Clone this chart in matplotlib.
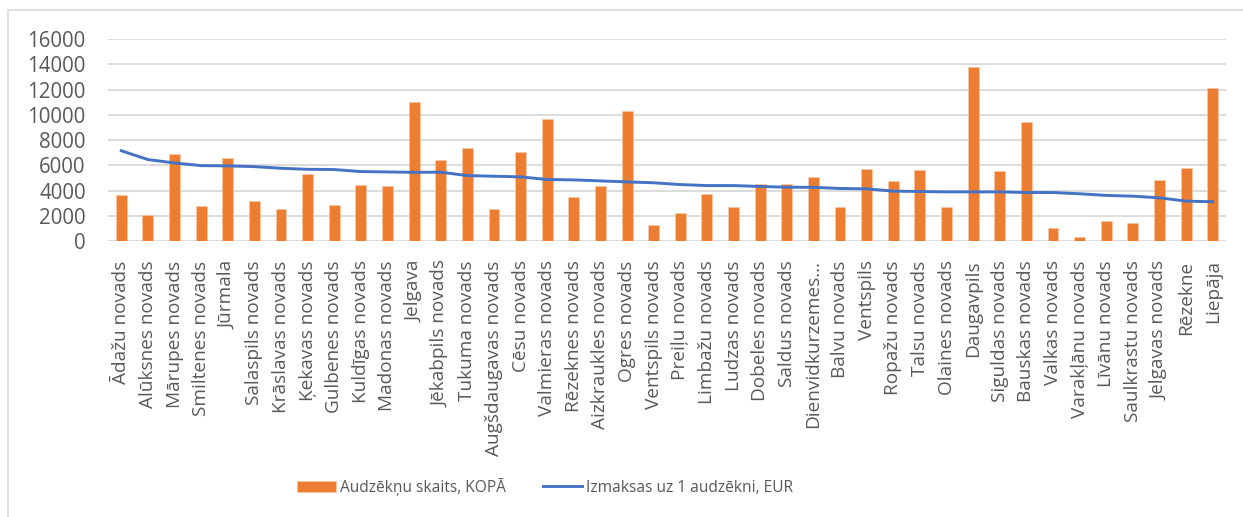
import matplotlib.pyplot as plt
import numpy as np
from matplotlib.patches import Rectangle

# datos
novadi = ["Ādažu novads", "Alūksnes novads", "Mārupes novads", "Smiltenes novads", "Jūrmala",
          "Salaspils novads", "Krāslavas novads", "Ķekavas novads", "Gulbenes novads", "Kuldīgas novads",
          "Madonas novads", "Jelgava", "Jēkabpils novads", "Tukuma novads", "Augšdaugavas novads",
          "Cēsu novads", "Valmieras novads", "Rēzeknes novads", "Aizkraukles novads", "Ogres novads",
          "Ventspils novads", "Preiļu novads", "Limbažu novads", "Ludzas novads", "Dobeles novads",
          "Saldus novads", "Dienvidkurzemes…", "Balvu novads", "Ventspils", "Ropažu novads",
          "Talsu novads", "Olaines novads", "Daugavpils", "Siguldas novads", "Bauskas novads",
          "Valkas novads", "Varakļānu novads", "Līvānu novads", "Saulkrastu novads", "Jelgavas novads",
          "Rēzekne", "Liepāja"]

audzekni = [3650, 2030, 6900, 2800, 6580, 3200, 2500, 5300, 2820, 4400,
            4370, 11000, 6400, 7370, 2550, 7050, 9650, 3470, 4340, 10290,
            1290, 2240, 3760, 2710, 4550, 4530, 5030, 2710, 5740, 4790,
            5630, 2710, 13820, 5580, 9450, 1050, 340, 1600, 1390, 4870,
            5820, 12130]

izmaksas = [7150, 6450, 6180, 5970, 5950, 5890, 5760, 5680, 5660, 5500,
            5470, 5440, 5450, 5180, 5130, 5080, 4870, 4840, 4760, 4680,
            4610, 4470, 4390, 4390, 4320, 4260, 4250, 4160, 4130, 3950,
            3920, 3890, 3890, 3890, 3840, 3840, 3740, 3610, 3550, 3420,
            3160, 3110]

oranzs = "#ED7D31"
zils = "#4472C4"
teksts = "#595959"

fig = plt.figure(figsize=(12.43, 5.17), dpi=100)
ax = fig.add_axes([108 / 1243, 1 - 241 / 517, 1118 / 1243, 202 / 517])

# marco del grafico (cortado a la derecha y abajo)
fig.patches.append(Rectangle((8 / 1243, -0.1), 1.2, 1 - 10 / 517 + 0.1, transform=fig.transFigure,
                             fill=False, edgecolor="#D9D9D9", linewidth=1.2))

x = np.arange(len(novadi))
stabini = ax.bar(x, audzekni, width=0.41, color=oranzs, edgecolor="#F8CBAD", linewidth=0.4,
                 label="Audzēkņu skaits, KOPĀ", zorder=2)
linija, = ax.plot(x, izmaksas, color=zils, linewidth=2.1, label="Izmaksas uz 1 audzēkni, EUR", zorder=3)

ax.set_xlim(-0.5, len(novadi) - 0.5)
ax.set_ylim(0, 16000)
ax.set_yticks(range(0, 16001, 2000))
ax.yaxis.grid(True, color="#D9D9D9", linewidth=1.3)
ax.set_axisbelow(True)
for s in ax.spines.values():
    s.set_visible(False)

ax.set_xticks(x)
ax.set_xticklabels(novadi, rotation=90, fontsize=13.7, color=teksts, family="Open Sans")
ax.tick_params(axis="x", length=0, pad=14)
ax.tick_params(axis="y", length=0, pad=16, labelsize=14.8, labelcolor=teksts)
for t in ax.get_yticklabels():
    t.set_family("Open Sans")

fig.legend(handles=[stabini, linija], loc="center", bbox_to_anchor=(545 / 1243, 1 - 487 / 517), ncol=2,
           frameon=False, prop={"family": "Open Sans", "size": 11.2}, labelcolor=teksts,
           handlelength=2.5, handleheight=0.75, handletextpad=0.25, columnspacing=2.4)

fig.savefig("out.png", dpi=100)
